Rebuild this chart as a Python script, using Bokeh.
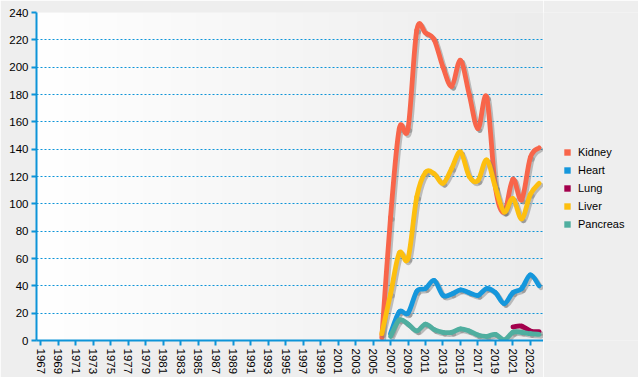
import numpy as np
from bokeh.plotting import figure
from bokeh.layouts import row
from bokeh.models import Range1d, FixedTicker, Legend, LegendItem, ColumnDataSource
from bokeh.embed import file_html
from bokeh.resources import INLINE

# ---- data -------------------------------------------------------------
all_years = list(range(1967, 2025))
tick_years = list(range(1967, 2024, 2))
y_ticks = list(range(0, 241, 20))

kidney_years = list(range(2006, 2025))
kidney = [2, 90, 155, 155, 227, 225, 220, 200, 186, 205, 180, 155, 178, 112, 94, 118, 103, 134, 141]

heart_years = list(range(2007, 2025))
heart = [5, 21, 20, 36, 38, 44, 33, 34, 37, 35, 33, 38, 35, 27, 35, 38, 48, 40]

lung_years = list(range(2021, 2025))
lung = [10, 10.5, 7, 6.5]

liver_years = list(range(2006, 2025))
liver = [5, 34, 64, 60, 105, 123, 122, 115, 126, 138, 120, 117, 132, 112, 94, 104, 89, 107, 115]

pancreas_years = list(range(2007, 2025))
pancreas = [3, 15, 12, 7, 12, 8, 6, 6, 8.5, 7, 4, 3, 4.5, 0.5, 6, 6, 5, 4.5]

series = [
    ("Kidney", kidney_years, kidney, "#f8654a"),
    ("Heart", heart_years, heart, "#1597dc"),
    ("Lung", lung_years, lung, "#a3004c"),
    ("Liver", liver_years, liver, "#fdbf0f"),
    ("Pancreas", pancreas_years, pancreas, "#4fae9f"),
]

BLUE = "#0d94d8"
BG = "#eeeeee"
FONT = "Liberation Sans"
H = 377

x0 = all_years[0] - 0.5
x1 = all_years[-1] + 0.5

p = figure(width=543, height=H, output_backend="svg", toolbar_location=None,
           x_range=Range1d(x0, x1), y_range=Range1d(y_ticks[0], y_ticks[-1]),
           min_border_left=36, min_border_right=0, min_border_top=12,
           min_border_bottom=37)
p.border_fill_color = BG
p.background_fill_color = BG
p.outline_line_color = None

# gradient plot background
n = 256
g = np.linspace(255, 236, n).astype(np.uint8)
img = np.empty((1, n), dtype=np.uint32)
view = img.view(dtype=np.uint8).reshape((1, n, 4))
view[0, :, 0] = g
view[0, :, 1] = g
view[0, :, 2] = g
view[0, :, 3] = 255
bg = p.image_rgba(image=[img], x=x0, y=y_ticks[0], dw=x1 - x0, dh=y_ticks[-1] - y_ticks[0])
bg.level = "image"

# axes
p.xaxis.ticker = FixedTicker(ticks=tick_years)
p.yaxis.ticker = FixedTicker(ticks=y_ticks)
p.xaxis.major_label_orientation = "vertical"
for ax in (p.xaxis[0], p.yaxis[0]):
    ax.axis_line_color = BLUE
    ax.axis_line_width = 2
    ax.major_tick_line_color = BLUE
    ax.major_tick_line_width = 2
    ax.major_tick_out = 5
    ax.major_tick_in = 0
    ax.minor_tick_line_color = None
    ax.major_label_text_font = FONT
    ax.major_label_text_color = "#000000"
    ax.major_label_standoff = 3
    ax.major_label_text_font_size = "11.5px"

p.xgrid.grid_line_color = None
p.ygrid.grid_line_color = BLUE
p.ygrid.grid_line_dash = "2 2"
p.ygrid.grid_line_width = 1


def bezier_segments(xs, ys, dx=0.0, dy=0.0):
    xs = np.asarray(xs, dtype=float) + dx
    ys = np.asarray(ys, dtype=float) + dy
    m = len(xs)
    d = dict(x0=[], y0=[], x1=[], y1=[], cx0=[], cy0=[], cx1=[], cy1=[])
    for i in range(m - 1):
        a = max(i - 1, 0)
        b = min(i + 2, m - 1)
        d["x0"].append(xs[i]); d["y0"].append(ys[i])
        d["x1"].append(xs[i + 1]); d["y1"].append(ys[i + 1])
        d["cx0"].append(xs[i] + (xs[i + 1] - xs[a]) / 6)
        d["cy0"].append(ys[i] + (ys[i + 1] - ys[a]) / 6)
        d["cx1"].append(xs[i + 1] - (xs[b] - xs[i]) / 6)
        d["cy1"].append(ys[i + 1] - (ys[b] - ys[i]) / 6)
    return ColumnDataSource(d)


# legend panel (separate small figure to the right)
lp = figure(width=95, height=H, output_backend="svg", toolbar_location=None,
            x_axis_location=None, y_axis_location=None,
            min_border_left=0, min_border_right=0, min_border_top=0, min_border_bottom=0)
lp.border_fill_color = BG
lp.background_fill_color = BG
lp.outline_line_color = None
lp.grid.visible = False

items = []
for name, xs, ys, color in series:
    p.bezier(x0="x0", y0="y0", x1="x1", y1="y1", cx0="cx0", cy0="cy0", cx1="cx1", cy1="cy1",
             source=bezier_segments(xs, ys, 0.22, -1.4), line_color="#7a7a7a", line_alpha=0.45,
             line_width=4.8, line_cap="round", line_join="round")
    p.bezier(x0="x0", y0="y0", x1="x1", y1="y1", cx0="cx0", cy0="cy0", cx1="cx1", cy1="cy1",
             source=bezier_segments(xs, ys), line_color=color,
             line_width=4.8, line_cap="round", line_join="round")
    # legend swatch only (NaN position, never drawn)
    dummy = lp.quad(left=[np.nan], right=[np.nan], top=[np.nan], bottom=[np.nan],
                    fill_color=color, line_color=None)
    items.append(LegendItem(label=name, renderers=[dummy]))

legend = Legend(items=items, location=(20, 110), border_line_color=None,
                background_fill_alpha=0, glyph_width=8, glyph_height=8,
                label_text_font=FONT, label_text_font_size="11px", label_height=12,
                label_text_color="#000000",
                spacing=6, label_standoff=7, padding=0, margin=0)
lp.add_layout(legend)

layout = row(p, lp, spacing=0)
open("out.html", "w").write(file_html(layout, INLINE))
